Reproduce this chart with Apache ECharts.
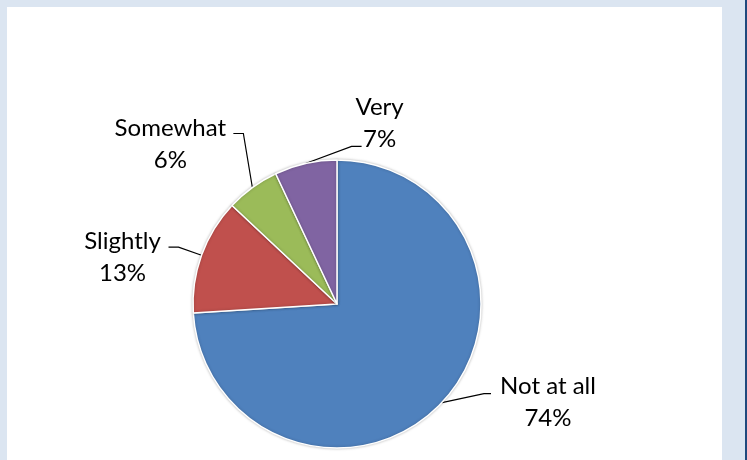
<!DOCTYPE html>
<html>
<head>
<meta charset="utf-8">
<script src="https://cdn.jsdelivr.net/npm/echarts@6/dist/echarts.min.js"></script>
<style>
  html, body { margin: 0; padding: 0; }
  body { width: 747px; height: 460px; background: #dbe5f1; position: relative; overflow: hidden; }
  #chart { position: absolute; left: 7px; top: 7px; width: 715px; height: 453px; background: #ffffff; }
  #edge { position: absolute; left: 745px; top: 0; width: 2px; height: 460px; background: #1f497d; }
</style>
</head>
<body>
<div id="chart"></div>
<div id="edge"></div>
<script>
const categories = ['Not at all', 'Slightly', 'Somewhat', 'Very'];
const values = [74, 13, 6, 7];
const colors = ['#4f81bd', '#c0504d', '#9bbb59', '#8064a2'];

// label-line geometry relative to the slice edge point (styling offsets)
const labelGeom = [
  { bend: [42, -9], tail: 7, text: [57, 9] },
  { bend: [-23, -8], tail: -10, text: [-46, 10] },
  { bend: [-9, -54], tail: -10, text: [-63, 11] },
  { bend: [46, -17], tail: 10, text: [18, -23] }
];

const chart = echarts.init(document.getElementById('chart'));
chart.setOption({
  animation: false,
  series: [{
    type: 'pie',
    center: [330, 297],
    radius: [0, 144],
    startAngle: 90,
    clockwise: true,
    avoidLabelOverlap: false,
    data: categories.map((c, i) => ({ name: c, value: values[i], itemStyle: { color: colors[i] } })),
    itemStyle: { borderColor: '#ffffff', borderWidth: 1.5, shadowBlur: 3, shadowColor: 'rgba(0,0,0,0.25)' },
    label: {
      show: true,
      position: 'outside',
      formatter: '{b}\n{c}%',
      fontFamily: 'Lato',
      fontSize: 24,
      lineHeight: 32,
      color: '#000000'
    },
    labelLine: { show: true, lineStyle: { color: '#000000', width: 1.2 } },
    emphasis: { disabled: true },
    labelLayout: function (params) {
      const g = labelGeom[params.dataIndex];
      const p = params.labelLinePoints[0];
      const bend = [p[0] + g.bend[0], p[1] + g.bend[1]];
      const end = [bend[0] + g.tail, bend[1]];
      return {
        x: end[0] + g.text[0],
        y: end[1] + g.text[1],
        align: 'center',
        verticalAlign: 'middle',
        labelLinePoints: [p, bend, end]
      };
    }
  }]
});
</script>
</body>
</html>
